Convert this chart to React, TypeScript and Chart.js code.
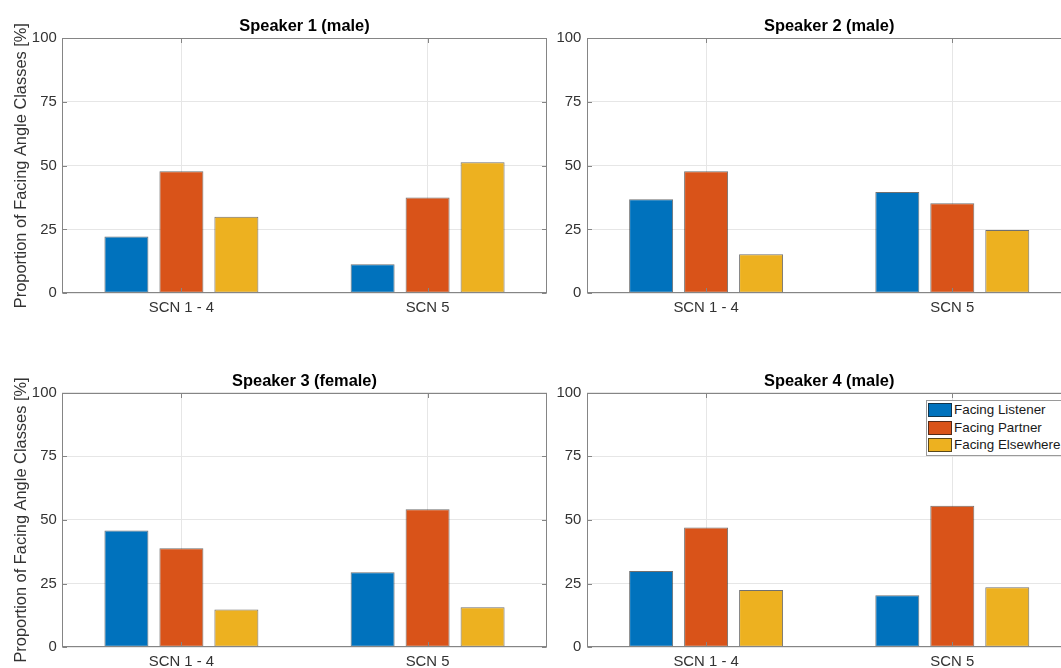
import React, { useEffect, useRef } from 'react';
import { Chart, registerables } from 'chart.js';

Chart.register(...registerables);

// ---------- data ----------
const CATEGORIES = ['SCN 1 - 4', 'SCN 5'];
const SERIES_NAMES = ['Facing Listener', 'Facing Partner', 'Facing Elsewhere'];
const SERIES_COLORS = ['#0072BD', '#D95319', '#EDB120'];
const Y_TICKS = [0, 25, 50, 75, 100];
const Y_LABEL = 'Proportion of Facing Angle Classes [%]';
const TITLES = ['Speaker 1 (male)', 'Speaker 2 (male)', 'Speaker 3 (female)', 'Speaker 4 (male)'];

const S1_LISTENER = [22.2, 11.4];
const S1_PARTNER = [47.8, 37.5];
const S1_ELSEWHERE = [30.0, 51.3];

const S2_LISTENER = [36.8, 39.7];
const S2_PARTNER = [47.8, 35.3];
const S2_ELSEWHERE = [15.3, 24.8];

const S3_LISTENER = [45.9, 29.5];
const S3_PARTNER = [38.9, 54.2];
const S3_ELSEWHERE = [14.8, 15.7];

const S4_LISTENER = [30.0, 20.4];
const S4_PARTNER = [47.1, 55.6];
const S4_ELSEWHERE = [22.5, 23.6];

const SPEAKER_SERIES = [
  [S1_LISTENER, S1_PARTNER, S1_ELSEWHERE],
  [S2_LISTENER, S2_PARTNER, S2_ELSEWHERE],
  [S3_LISTENER, S3_PARTNER, S3_ELSEWHERE],
  [S4_LISTENER, S4_PARTNER, S4_ELSEWHERE],
];

// ---------- style / layout ----------
const FONT = "'Liberation Sans', Arial, Helvetica, sans-serif";
const TEXT_COLOR = '#333333';
const AXIS_COLOR = '#858585';
const GRID_COLOR = '#e6e6e6';
const TICK_SIZE = 14.9;
const TITLE_SIZE = 16.4;
const LABEL_SIZE = 16.4;
const TICK_LEN = 4.5;
const X_MIN = 0.515;
const X_MAX = 2.485;

Chart.defaults.font.family = FONT;

type Rect = { x: number; y: number; w: number; h: number };
type Area = { l: number; t: number; r: number; b: number };
type PanelCfg = { canvas: Rect; area: Area; titleCenter: number; yTitle: boolean };

const PANELS: PanelCfg[] = [
  { canvas: { x: 0, y: 0, w: 550, h: 334 }, area: { l: 62, t: 38, r: 547, b: 293.3 }, titleCenter: 26, yTitle: true },
  { canvas: { x: 550, y: 0, w: 531, h: 334 }, area: { l: 586.7, t: 38, r: 1071.7, b: 293.3 }, titleCenter: 26, yTitle: false },
  { canvas: { x: 0, y: 334, w: 550, h: 334 }, area: { l: 62, t: 392.7, r: 547, b: 647.3 }, titleCenter: 381, yTitle: true },
  { canvas: { x: 550, y: 334, w: 531, h: 334 }, area: { l: 586.7, t: 392.7, r: 1071.7, b: 647.3 }, titleCenter: 381, yTitle: false },
];

const framePlugin = {
  id: 'frame',
  afterDraw(chart: any) {
    const { ctx, chartArea: a } = chart;
    const xs = chart.scales.x;
    const ys = chart.scales.y;
    const L = Math.round(a.left) + 0.5;
    const R = Math.round(a.right) - 0.5;
    const T = Math.round(a.top) + 0.5;
    const B = Math.round(a.bottom) - 0.5;
    ctx.save();
    ctx.strokeStyle = AXIS_COLOR;
    ctx.lineWidth = 1;
    ctx.beginPath();
    xs.ticks.forEach((t: any) => {
      const px = Math.round(xs.getPixelForValue(t.value)) + 0.5;
      ctx.moveTo(px, B);
      ctx.lineTo(px, B - TICK_LEN);
      ctx.moveTo(px, T);
      ctx.lineTo(px, T + TICK_LEN);
    });
    ys.ticks.forEach((t: any) => {
      const py = Math.round(ys.getPixelForValue(t.value)) + 0.5;
      ctx.moveTo(L, py);
      ctx.lineTo(L + TICK_LEN, py);
      ctx.moveTo(R, py);
      ctx.lineTo(R - TICK_LEN, py);
    });
    ctx.stroke();
    ctx.strokeRect(L, T, R - L, B - T);
    ctx.restore();
  },
};

function Panel({ cfg, index }: { cfg: PanelCfg; index: number }) {
  const ref = useRef<HTMLCanvasElement | null>(null);

  useEffect(() => {
    if (!ref.current) return;
    const yW = cfg.area.l - cfg.canvas.x;
    const rightPad = cfg.canvas.x + cfg.canvas.w - cfg.area.r;
    const titleBlock = cfg.area.t - cfg.canvas.y;
    const xH = cfg.canvas.y + cfg.canvas.h - cfg.area.b;
    const titleLH = TITLE_SIZE * 1.2;
    const tPadTop = cfg.titleCenter - cfg.canvas.y - titleLH / 2;
    const tPadBottom = titleBlock - tPadTop - titleLH;
    const labelLH = LABEL_SIZE * 1.2;
    const tickLH = TICK_SIZE * 1.2;

    const series = SPEAKER_SERIES[index];
    const chart = new Chart(ref.current, {
      type: 'bar',
      data: {
        datasets: series.map((vals, si) => ({
          label: SERIES_NAMES[si],
          data: vals.map((v, ci) => ({ x: ci + 1, y: v })),
          backgroundColor: SERIES_COLORS[si],
          borderColor: 'rgba(25,25,25,0.62)',
          borderWidth: 1,
          borderSkipped: false,
          categoryPercentage: 0.67,
          barPercentage: 0.8,
        })),
      },
      options: {
        responsive: false,
        animation: false,
        devicePixelRatio: 1,
        layout: { padding: { left: 0, right: rightPad, top: 0, bottom: 0 } },
        plugins: {
          legend: { display: false },
          tooltip: { enabled: false },
          title: {
            display: true,
            text: TITLES[index],
            fullSize: false,
            color: '#000000',
            font: { size: TITLE_SIZE, weight: 'bold', lineHeight: 1.2, family: FONT },
            padding: { top: tPadTop, bottom: tPadBottom },
          },
        },
        scales: {
          x: {
            type: 'linear',
            offset: false,
            min: X_MIN,
            max: X_MAX,
            afterBuildTicks: (s: any) => {
              s.ticks = CATEGORIES.map((_, i) => ({ value: i + 1 }));
            },
            afterFit: (s: any) => {
              s.height = xH;
            },
            grid: { color: GRID_COLOR, drawTicks: false, lineWidth: 1, offset: false },
            border: { display: false },
            ticks: {
              callback: (v: any) => CATEGORIES[Math.round(Number(v)) - 1] ?? '',
              padding: 15 - tickLH / 2,
              color: TEXT_COLOR,
              font: { size: TICK_SIZE, lineHeight: 1.2, family: FONT },
              maxRotation: 0,
              autoSkip: false,
            },
          },
          y: {
            type: 'linear',
            min: 0,
            max: 100,
            afterBuildTicks: (s: any) => {
              s.ticks = Y_TICKS.map((v) => ({ value: v }));
            },
            afterFit: (s: any) => {
              s.width = yW;
            },
            grid: { color: GRID_COLOR, drawTicks: false, lineWidth: 1 },
            border: { display: false },
            ticks: {
              padding: 5.3,
              color: TEXT_COLOR,
              font: { size: TICK_SIZE, lineHeight: 1.2, family: FONT },
            },
            title: cfg.yTitle
              ? {
                  display: true,
                  text: Y_LABEL,
                  color: TEXT_COLOR,
                  font: { size: LABEL_SIZE, lineHeight: 1.2, family: FONT },
                  padding: { top: 21.5 - labelLH / 2, bottom: 0 },
                }
              : { display: false },
          },
        },
      },
      plugins: [framePlugin],
    } as any);
    return () => chart.destroy();
  }, [cfg, index]);

  return (
    <canvas
      ref={ref}
      width={cfg.canvas.w}
      height={cfg.canvas.h}
      style={{ position: 'absolute', left: cfg.canvas.x, top: cfg.canvas.y, display: 'block' }}
    />
  );
}

function Legend() {
  return (
    <div
      style={{
        position: 'absolute',
        left: 926,
        top: 400,
        width: 150,
        height: 54,
        border: '1px solid #9a9a9a',
        background: '#ffffff',
        fontFamily: FONT,
        fontSize: 13.4,
        color: '#1a1a1a',
      }}
    >
      {SERIES_NAMES.map((name, i) => (
        <div key={name} style={{ position: 'absolute', left: 0, top: 1.7 + i * 17.8, height: 14, width: 150 }}>
          <div
            style={{
              position: 'absolute',
              left: 1.3,
              top: 0,
              width: 24,
              height: 14,
              boxSizing: 'border-box',
              border: '1px solid rgba(25,25,25,0.7)',
              background: SERIES_COLORS[i],
            }}
          />
          <div
            style={{
              position: 'absolute',
              left: 27,
              top: -1,
              lineHeight: '16px',
              whiteSpace: 'nowrap',
            }}
          >
            {name}
          </div>
        </div>
      ))}
    </div>
  );
}

export default function App() {
  return (
    <div
      style={{
        position: 'absolute',
        left: 0,
        top: 0,
        width: 1061,
        height: 668,
        overflow: 'hidden',
        background: '#ffffff',
      }}
    >
      {PANELS.map((cfg, i) => (
        <Panel key={i} cfg={cfg} index={i} />
      ))}
      <Legend />
    </div>
  );
}
